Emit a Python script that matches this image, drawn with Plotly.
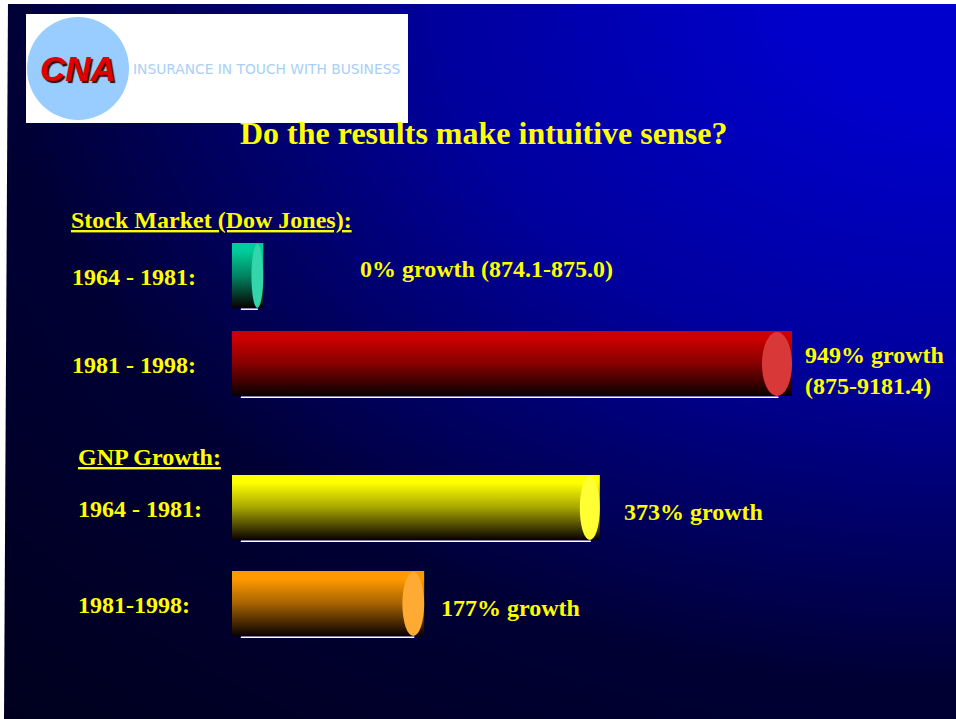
import numpy as np
import plotly.graph_objects as go

W, H = 956, 719

# ---------------- data ----------------
section_titles = ["Stock Market (Dow Jones):", "GNP Growth:"]
row_labels = ["1964 - 1981:", "1981 - 1998:", "1964 - 1981:", "1981-1998:"]
growth_pct = [0, 949, 373, 177]
value_labels = ["0% growth (874.1-875.0)", "949% growth<br>(875-9181.4)",
                "373% growth", "177% growth"]
# displayed bar lengths (percent of the bar axis)
bar_lengths = [5.3, 95.0, 62.4, 32.6]

# ---------------- style / layout constants ----------------
row_centers_px = [275.5, 363.5, 507.5, 603.5]
bar_height_px = 65
bar_top_colors = ["#00CC99", "#CC0000", "#FFFF00", "#FF9900"]
bar_mid_colors = ["#008563", "#860000", "#A6A600", "#A66300"]
cap_colors = ["#33D6AA", "#D83838", "#FFFF33", "#FFAA33"]
cap_width_units = [2.0, 5.1, 3.4, 3.7]
BAR_X0_PX = 232
BAR_AXIS_END_PX = 232 + 560 / 95 * 100
YEL = "#FFFF00"
SERIF = "Liberation Serif"


def P(x, y):
    return x / W, 1 - y / H


fig = go.Figure()

# ---------------- background gradient (decorative) ----------------
gx = np.linspace(0, W, 97)
gy = np.linspace(0, H, 73)
X, Y = np.meshgrid(gx, gy)
u = (W - X) / W
v = Y / H
D = np.sqrt(u ** 2 + (v * 1.05) ** 2)
bg_scale = [[0.0, "#0000CC"], [0.1, "#0000CC"], [0.19, "#0000BA"],
            [0.34, "#00009C"], [0.49, "#000064"], [0.625, "#000034"],
            [0.75, "#00002A"], [1.0, "#000016"]]
fig.add_trace(go.Heatmap(x=gx, y=gy, z=D, zmin=0, zmax=1.6, colorscale=bg_scale,
                         showscale=False, zsmooth="best", hoverinfo="skip",
                         xaxis="x", yaxis="y"))

# ---------------- bars ----------------
half = bar_height_px / 2
for i, L in enumerate(bar_lengths):
    yc = row_centers_px[i]
    y0, y1 = yc - half, yc + half
    c = bar_top_colors[i]
    m = bar_mid_colors[i]
    fig.add_trace(go.Scatter(
        x=[0, L, L, 0, 0], y=[y0, y0, y1, y1, y0],
        mode="lines", line=dict(width=0), fill="toself",
        fillgradient=dict(type="vertical", start=y0, stop=y1,
                          colorscale=[[0, c], [0.12, c], [0.5, m], [1, "#080000"]]),
        hoverinfo="skip", showlegend=False, xaxis="x2", yaxis="y2"))

shapes = []
for i, L in enumerate(bar_lengths):
    yc = row_centers_px[i]
    y0, y1 = yc - half, yc + half
    cw = cap_width_units[i]
    # cylinder end cap
    shapes.append(dict(type="circle", xref="x2", yref="y2",
                       x0=L - cw, x1=L, y0=y0 + 1, y1=y1,
                       fillcolor=cap_colors[i], line=dict(width=0), layer="above"))
    # white highlight under the bar
    shapes.append(dict(type="line", xref="x2", yref="y2",
                       x0=min(1.5, L * 0.3), x1=L - cw * 0.45, y0=y1 + 1.2, y1=y1 + 1.2,
                       line=dict(color="white", width=1.5), layer="above"))
    # white highlight on left edge
    shapes.append(dict(type="line", xref="x2", yref="y2",
                       x0=-0.2, x1=-0.2, y0=yc - 10, y1=yc + 8,
                       line=dict(color="white", width=1.5), layer="above"))

# white slide margins
shapes.append(dict(type="path", xref="paper", yref="paper",
                   path=f"M0,0 L{4/W},0 L{8/W},1 L0,1 Z",
                   fillcolor="white", line=dict(width=0), layer="above"))
shapes.append(dict(type="rect", xref="paper", yref="paper",
                   x0=0, x1=1, y0=1 - 4 / H, y1=1,
                   fillcolor="white", line=dict(width=0), layer="above"))

# logo
lx0, ly0 = P(26, 14)
lx1, ly1 = P(408, 123)
shapes.append(dict(type="rect", xref="paper", yref="paper", x0=lx0, x1=lx1,
                   y0=ly1, y1=ly0, fillcolor="white", line=dict(width=0), layer="above"))
cx0, cy0 = P(27, 17)
cx1, cy1 = P(129, 120)
shapes.append(dict(type="circle", xref="paper", yref="paper", x0=cx0, x1=cx1,
                   y0=cy1, y1=cy0, fillcolor="#99CCFF", line=dict(width=0), layer="above"))

annotations = []


def txt(text, x, y, size, xanchor="left", color=YEL, family=SERIF, weight="bold",
        style="normal", shadow=None):
    px_, py_ = P(x, y)
    f = dict(family=family, size=size, color=color, weight=weight, style=style)
    if shadow:
        f["shadow"] = shadow
    annotations.append(dict(text=text, x=px_, y=py_, xref="paper", yref="paper",
                            xanchor=xanchor, yanchor="middle", showarrow=False,
                            font=f, align="left"))


txt("CNA", 78, 68, 35, xanchor="center", color="#E00000", family="Liberation Sans",
    style="italic", shadow="2px 2px 1px #300000")
txt("INSURANCE IN TOUCH WITH BUSINESS", 131, 69, 13.8, color="#A8D0F8",
    family="DejaVu Sans", weight="normal")

txt("Do the results make intuitive sense?", 483.5, 133, 32, xanchor="center")
txt(f"<u>{section_titles[0]}</u>", 69, 220, 24)
txt(f"<u>{section_titles[1]}</u>", 76, 457, 24)
label_x = [70, 70, 76, 76]
for i, lab in enumerate(row_labels):
    txt(lab, label_x[i], row_centers_px[i] + 1.5, 24)

txt(value_labels[0], 358, 269, 24)
txt(value_labels[1], 803, 370, 24)
txt(value_labels[2], 622, 512, 24)
txt(value_labels[3], 439, 608, 24)

fig.update_layout(
    width=W, height=H, margin=dict(l=0, r=0, t=0, b=0),
    paper_bgcolor="white", plot_bgcolor="rgba(0,0,0,0)",
    showlegend=False,
    xaxis=dict(domain=[0, 1], range=[0, W], visible=False, fixedrange=True),
    yaxis=dict(domain=[0, 1], range=[H, 0], visible=False, fixedrange=True),
    xaxis2=dict(domain=[BAR_X0_PX / W, BAR_AXIS_END_PX / W], range=[0, 100],
                visible=False, anchor="y2", fixedrange=True),
    yaxis2=dict(domain=[0, 1], range=[H, 0], visible=False, anchor="x2", fixedrange=True),
    shapes=shapes, annotations=annotations,
)

fig.write_html("out.html")
